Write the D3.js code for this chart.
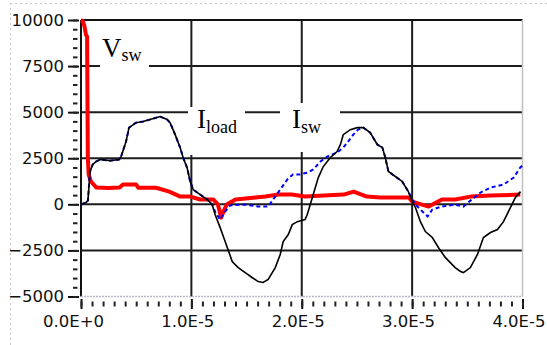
<!DOCTYPE html>
<html>
<head>
<meta charset="utf-8">
<script src="https://cdn.jsdelivr.net/npm/d3@7"></script>
<style>
    body { margin: 0; background: #fff; }
    .tick text { font-family: "DejaVu Sans", sans-serif; font-size: 16.5px; fill: #111; }
    .label { font-family: "Liberation Serif", "Times New Roman", serif; fill: #000; }
</style>
</head>
<body>
<svg id="chart" width="547" height="345"></svg>
<script>

// time in microseconds
const vswTime = [0, 0.15, 0.3, 0.45, 0.55, 0.62, 0.7, 0.9, 1.4, 2.5,
    3.5, 3.8, 5.0, 5.2, 6.8, 8.0, 9.0, 9.9, 10.8, 12.0,
    12.4, 12.7, 12.9, 13.2, 14.0, 15.8, 16.7, 17.9, 19.1, 20.3,
    22.0, 23.8, 24.7, 25.9, 27.1, 29.7, 30.0, 31.5, 32.7, 33.9,
    35.3, 37.1, 39.8];
const vswValues = [10000, 9950, 9700, 9200, 9100, 2500, 1600, 1240, 910, 880,
    910, 1070, 1070, 900, 900, 690, 420, 420, 260, 260,
    0, -720, -400, -10, 260, 370, 420, 530, 530, 420,
    480, 530, 690, 420, 370, 370, 150, -120, 260, 260,
    420, 480, 530];

const iloadTime = [0, 0.45, 0.63, 0.73, 0.82, 1.06, 1.36, 1.72, 2.63, 3.45,
    3.63, 4.08, 4.35, 4.99, 5.62, 6.8, 7.17, 7.8, 8.07, 8.53,
    8.98, 9.25, 9.61, 9.89, 10.16, 10.8, 11.43, 11.88, 12.15, 12.6,
    13.06, 13.7, 14.24, 14.88, 15.5, 16.05, 16.5, 16.96, 17.6, 18.05,
    18.32, 18.78, 19.14, 19.6, 20.3, 20.5, 20.77, 21.04, 21.5, 21.95,
    22.6, 23.2, 23.5, 23.76, 24.4, 25.03, 25.58, 26.2, 26.85, 27.3,
    27.57, 27.85, 28.48, 29.1, 29.66, 30.02, 30.3, 30.75, 31.2, 31.83,
    32.38, 33.0, 33.9, 34.38, 34.65, 35.28, 35.92, 36.46, 37.1, 37.73,
    38.28, 38.91, 39.36, 39.82];
const iloadValues = [-10, 100, 200, 1070, 1780, 2160, 2320, 2430, 2370, 2430,
    2590, 3400, 4160, 4430, 4490, 4700, 4760, 4600, 4430, 3780,
    3080, 2540, 1990, 1240, 800, 530, 260, -10, -550, -1250,
    -2020, -3100, -3430, -3700, -3970, -4190, -4240, -4070, -3430, -2720,
    -2020, -1640, -1100, -940, -830, -550, -10, 530, 1450, 2050,
    2540, 2860, 3240, 3780, 4050, 4160, 4160, 3890, 3240, 3080,
    2540, 1780, 1510, 1240, 690, 150, -170, -940, -1480, -1800,
    -2340, -2880, -3430, -3640, -3700, -3430, -2720, -1800, -1530, -1370,
    -940, -170, 370, 690];

const iswTime = [0, 0.45, 0.63, 0.73, 0.82, 1.06, 1.36, 1.72, 2.63, 3.45,
    3.63, 4.08, 4.35, 4.99, 5.62, 6.8, 7.17, 7.8, 8.07, 8.53,
    8.98, 9.25, 9.61, 9.89, 10.16, 10.8, 11.43, 11.88, 12.15, 12.6,
    13.06, 13.5, 14.9, 16.05, 16.96, 17.4, 18.05, 18.68, 19.2, 19.8,
    20.5, 21.04, 21.7, 22.3, 23.2, 23.76, 24.2, 24.67, 25.1, 25.58,
    26.2, 26.85, 27.3, 27.57, 27.85, 28.48, 29.1, 29.66, 30.02, 30.3,
    30.75, 31.2, 31.4, 31.83, 32.7, 33.9, 34.65, 35.28, 36.2, 37.1,
    38.28, 39.2, 39.8, 40];
const iswValues = [-10, 100, 200, 1070, 1780, 2160, 2320, 2430, 2370, 2430,
    2590, 3400, 4160, 4430, 4490, 4700, 4760, 4600, 4430, 3780,
    3080, 2540, 1990, 1240, 800, 530, 260, -10, -400, -830,
    -390, -60, -10, -120, -120, 260, 800, 1340, 1620, 1620,
    1720, 1890, 2320, 2590, 2810, 3080, 3400, 3780, 4050, 4160,
    3890, 3240, 3080, 2540, 1780, 1510, 1240, 690, 260, -10,
    -280, -550, -660, -280, -120, -10, -120, 200, 640, 910,
    1070, 1450, 2000, 2100];

const yTicks = [-5000, -2500, 0, 2500, 5000, 7500, 10000];
const yGrid = [-2500, 0, 2500, 5000, 7500];
const xTicks = [0, 10, 20, 30, 40];
const xGrid = [10, 20, 30];
const xTickLabels = ["0.0E+0", "1.0E-5", "2.0E-5", "3.0E-5", "4.0E-5"];

const svg = d3.select("#chart");

const x = d3.scaleLinear()
    .domain( [0, 40] )
    .range( [81, 522.5] );

const y = d3.scaleLinear()
    .domain( [-5000, 10000] )
    .range( [296.5, 20] );

// faint dotted frame of the screenshot
svg.append("line")
    .attr("x1", 10.5).attr("x2", 10.5).attr("y1", 3).attr("y2", 345)
    .attr("stroke", "#c8c8c8").attr("stroke-dasharray", "2,3");
svg.append("line")
    .attr("x1", 10).attr("x2", 547).attr("y1", 3.5).attr("y2", 3.5)
    .attr("stroke", "#c8c8c8").attr("stroke-dasharray", "2,3");

// grid
const grid = svg.append("g").attr("class", "grid");

grid.selectAll(".h-grid")
    .data( yGrid )
    .enter()
    .append("line")
        .attr("class", "h-grid")
        .attr("x1", x(0)).attr("x2", x(40))
        .attr("y1", v => y(v)).attr("y2", v => y(v))
        .attr("stroke", "#1c1c1c")
        .attr("stroke-width", 2);

grid.selectAll(".v-grid")
    .data( xGrid )
    .enter()
    .append("line")
        .attr("class", "v-grid")
        .attr("x1", v => x(v)).attr("x2", v => x(v))
        .attr("y1", y(10000)).attr("y2", y(-5000))
        .attr("stroke", "#1c1c1c")
        .attr("stroke-width", 2);

// frame: black top and left, grey dotted bottom and right
grid.append("line")
    .attr("x1", x(0)).attr("x2", x(40)).attr("y1", y(10000)).attr("y2", y(10000))
    .attr("stroke", "#111").attr("stroke-width", 2);
grid.append("line")
    .attr("x1", x(0)).attr("x2", x(0)).attr("y1", y(10000)).attr("y2", y(-5000))
    .attr("stroke", "#111").attr("stroke-width", 2);
grid.append("line")
    .attr("x1", x(0)).attr("x2", x(40)).attr("y1", y(-5000)).attr("y2", y(-5000))
    .attr("stroke", "#b8b8c8").attr("stroke-width", 1.5).attr("stroke-dasharray", "2,1");
grid.append("line")
    .attr("x1", x(40)).attr("x2", x(40)).attr("y1", y(10000)).attr("y2", y(-5000))
    .attr("stroke", "#c0c0c0").attr("stroke-width", 1.5);

// axes
const yAxis = d3.axisLeft( y )
    .tickValues( yTicks )
    .tickSize( 11 )
    .tickPadding( 4 )
    .tickFormat( d3.format("d") );

const gY = svg.append("g")
    .attr("class", "y-axis")
    .attr("transform", "translate(79,0)")
    .call( yAxis );
gY.select(".domain").remove();
gY.selectAll("line").attr("stroke", "#111").attr("stroke-width", 2);

const gYMinor = svg.append("g")
    .attr("transform", "translate(77.5,0)")
    .call( d3.axisLeft( y ).tickValues( d3.range(-5000, 10001, 500) ).tickSize( 4.5 ).tickFormat("") );
gYMinor.select(".domain").remove();
gYMinor.selectAll("line").attr("stroke", "#222").attr("stroke-width", 2);

const xAxis = d3.axisBottom( x )
    .tickValues( xTicks )
    .tickSize( 10 )
    .tickPadding( 6 )
    .tickFormat( (d, i) => xTickLabels[i] );

const gX = svg.append("g")
    .attr("class", "x-axis")
    .attr("transform", "translate(0,299)")
    .call( xAxis );
gX.select(".domain").remove();
gX.selectAll("line").attr("stroke", "#111").attr("stroke-width", 2);
gX.selectAll("text").attr("dx", -2);

const gXMinor = svg.append("g")
    .attr("transform", "translate(0,301.5)")
    .call( d3.axisBottom( x ).tickValues( d3.range(0, 41, 1) ).tickSize( 5 ).tickFormat("") );
gXMinor.select(".domain").remove();
gXMinor.selectAll("line").attr("stroke", "#222").attr("stroke-width", 2);

// keep the last label inside the window
gX.selectAll("text").each(function() {
    const box = this.getBBox();
    const tx = x(40);
    if ( tx + box.x + box.width > 545 ) {
        d3.select(this).attr("dx", 545 - (tx + box.x + box.width) - 2);
    }
});

// labels on white patches that cut the grid
const labels = [
    { main: "V", sub: "sw", box: [100, 36, 49, 33], x: 102, y: 57, subDy: 4 },
    { main: "I", sub: "load", box: [188, 107, 57, 48], x: 197, y: 128, subDy: 5 },
    { main: "I", sub: "sw", box: [280, 103, 60, 49], x: 292, y: 128, subDy: 5 }
];

const labelG = svg.append("g");
labels.forEach( l => {
    labelG.append("rect")
        .attr("x", l.box[0]).attr("y", l.box[1])
        .attr("width", l.box[2]).attr("height", l.box[3])
        .attr("fill", "#fff");
    const t = labelG.append("text")
        .attr("class", "label")
        .attr("x", l.x)
        .attr("y", l.y);
    t.append("tspan").style("font-size", "27px").text( l.main );
    t.append("tspan").style("font-size", "18px").attr("dy", l.subDy).text( l.sub );
});

// traces
const line = d3.line()
    .x( d => x(d[0]) )
    .y( d => y(d[1]) );

svg.append("path")
    .datum( d3.zip( vswTime, vswValues ) )
    .attr("fill", "none")
    .attr("stroke", "#ff0000")
    .attr("stroke-width", 4)
    .attr("stroke-linejoin", "round")
    .attr("d", line);

svg.append("path")
    .datum( d3.zip( iswTime, iswValues ) )
    .attr("fill", "none")
    .attr("stroke", "#0000ff")
    .attr("stroke-width", 2)
    .attr("stroke-dasharray", "4,3")
    .attr("d", line);

svg.append("path")
    .datum( d3.zip( iloadTime, iloadValues ) )
    .attr("fill", "none")
    .attr("stroke", "#000")
    .attr("stroke-width", 1.6)
    .attr("d", line);

</script>
</body>
</html>
